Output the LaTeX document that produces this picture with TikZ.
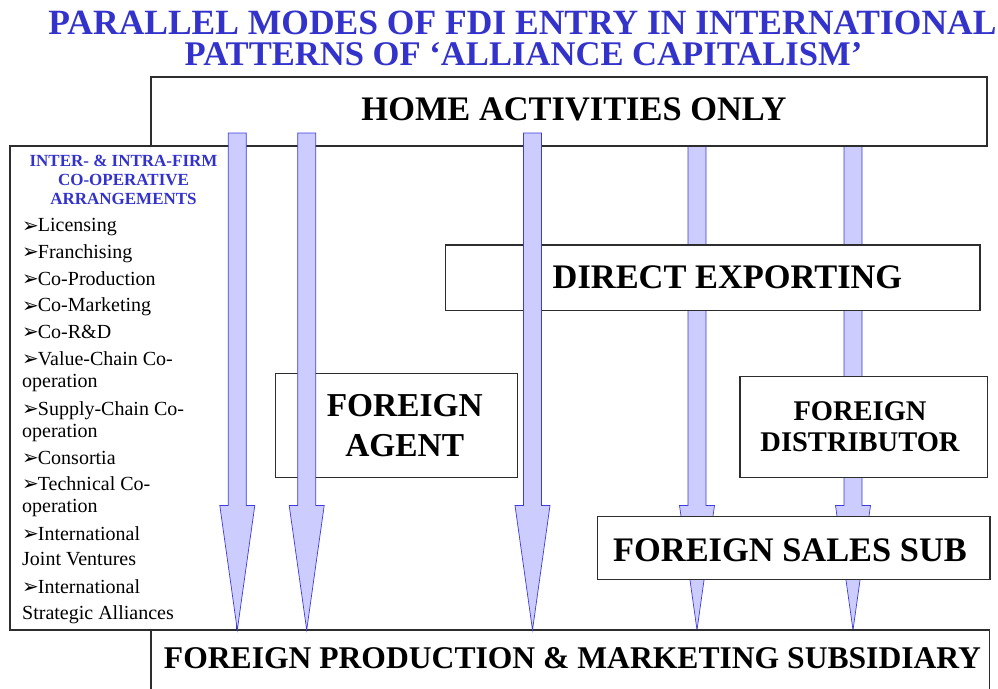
\documentclass[tikz,border=0pt]{standalone}
\usepackage{fontspec}
\setmainfont{Liberation Serif}
\newfontfamily\dejavu{DejaVu Sans}
\usetikzlibrary{calc}
\definecolor{ttlblue}{RGB}{51,51,204}
\definecolor{arrfill}{RGB}{204,204,255}
\definecolor{arrline}{RGB}{60,60,225}
\definecolor{boxline}{RGB}{45,45,45}
\newcommand\bul{\makebox[15.7pt][l]{\raisebox{-0.5pt}{\dejavu\fontsize{20}{20}\selectfont ➢}}}
\newcommand\fdiarr[2]{%
  \filldraw[fdiarrow] ($(#1)+(-9,0)$) -- ($(#1)+(9,0)$) -- ($(#2)+(9,-124.5)$)
    -- ($(#2)+(17.5,-124.5)$) -- (#2) -- ($(#2)+(-17.5,-124.5)$)
    -- ($(#2)+(-9,-124.5)$) -- cycle;}
\tikzset{
  box/.style={draw=boxline, line width=1.3pt, fill=white, anchor=north west, inner sep=0pt, outer sep=0pt},
  fdiarrow/.style={draw=arrline, fill=arrfill, line width=0.7pt, line join=miter},
  ttl/.style={anchor=base, inner sep=0pt, text=ttlblue, font=\bfseries\fontsize{34.6}{40}\selectfont},
  bigtxt/.style={anchor=base, inner sep=0pt, font=\bfseries\fontsize{34.4}{40}\selectfont},
  headtxt/.style={anchor=base, inner sep=0pt, text=ttlblue, font=\bfseries\fontsize{17}{20}\selectfont},
  listitem/.style={anchor=base west, inner sep=0pt, font=\fontsize{20}{24}\selectfont},
}
\begin{document}
\begin{tikzpicture}[x=1pt,y=-1pt]
\clip (0,0) rectangle (998,688);
\useasboundingbox (0,0) rectangle (998,688);

% title
\node[ttl, font=\bfseries\fontsize{35.5}{40}\selectfont] (title1) at (522.5,34.3) {PARALLEL MODES OF FDI ENTRY IN INTERNATIONAL};
\node[ttl] (title2) at (523.5,65.7) {PATTERNS OF ‘ALLIANCE CAPITALISM’};

% arrow coordinates
\coordinate (s1) at (237.3,133); \coordinate (e1) at (237.3,630);
\coordinate (s2) at (306.7,133); \coordinate (e2) at (306.7,630);
\coordinate (s3) at (532.5,133); \coordinate (e3) at (532.5,630);
\coordinate (s4) at (697,146);   \coordinate (e4) at (697,630);
\coordinate (s5) at (853,146);   \coordinate (e5) at (853,630);

% arrows behind boxes
\fdiarr{s4}{e4}
\fdiarr{s5}{e5}

% boxes
\node[box, minimum width=836pt, minimum height=69pt] (home) at (151,77) {};
\node[box, minimum width=227pt, minimum height=484pt] (coop) at (10,146) {};
\node[box, minimum width=534.7pt, minimum height=65.7pt] (direct) at (445.3,245) {};
\node[box, minimum width=241.6pt, minimum height=104.4pt] (agent) at (275.7,373.3) {};
\node[box, minimum width=247.7pt, minimum height=101pt] (distrib) at (740,376.7) {};
\node[box, minimum width=392.7pt, minimum height=62.6pt] (sales) at (597.3,516.7) {};
\node[box, minimum width=838.3pt, minimum height=80pt] (prod) at (151,630) {};

% arrows in front
\fdiarr{s1}{e1}
\fdiarr{s2}{e2}
\fdiarr{s3}{e3}

% box texts
\node[bigtxt] (homet) at (574,120) {HOME ACTIVITIES ONLY};
\node[bigtxt] (directt) at (727.5,288.3) {DIRECT EXPORTING};
\node[bigtxt, font=\bfseries\fontsize{33.4}{40}\selectfont] (agentt1) at (404.7,416) {FOREIGN};
\node[bigtxt, font=\bfseries\fontsize{33.4}{40}\selectfont] (agentt2) at (404.7,456) {AGENT};
\node[bigtxt, font=\bfseries\fontsize{28.5}{34}\selectfont] (distt1) at (860,420) {FOREIGN};
\node[bigtxt, font=\bfseries\fontsize{28.5}{34}\selectfont] (distt2) at (860,451.7) {DISTRIBUTOR};
\node[bigtxt] (salest) at (790,561.7) {FOREIGN SALES SUB};
\node[bigtxt, font=\bfseries\fontsize{31.6}{38}\selectfont] (prodt) at (572.5,668) {FOREIGN PRODUCTION \& MARKETING SUBSIDIARY};

% co-operative arrangements
\node[headtxt] (h1) at (123.5,166) {INTER- \& INTRA-FIRM};
\node[headtxt] (h2) at (123.5,185.7) {CO-OPERATIVE};
\node[headtxt] (h3) at (123.5,204.3) {ARRANGEMENTS};
\node[listitem] (l1) at (22,231.7) {\bul Licensing};
\node[listitem] (l2) at (22,258.3) {\bul Franchising};
\node[listitem] (l3) at (22,285) {\bul Co-Production};
\node[listitem] (l4) at (22,311.7) {\bul Co-Marketing};
\node[listitem] (l5) at (22,338.3) {\bul Co-R\&D};
\node[listitem] (l6) at (22,365) {\bul Value-Chain Co-};
\node[listitem] (l6b) at (22,387.3) {operation};
\node[listitem] (l7) at (22,415) {\bul Supply-Chain Co-};
\node[listitem] (l7b) at (22,437.3) {operation};
\node[listitem] (l8) at (22,464) {\bul Consortia};
\node[listitem] (l9) at (22,490) {\bul Technical Co-};
\node[listitem] (l9b) at (22,512.7) {operation};
\node[listitem] (l10) at (22,540) {\bul International};
\node[listitem] (l10b) at (22,565.7) {Joint Ventures};
\node[listitem] (l11) at (22,593.3) {\bul International};
\node[listitem] (l11b) at (22,619.3) {Strategic Alliances};
\end{tikzpicture}
\end{document}
